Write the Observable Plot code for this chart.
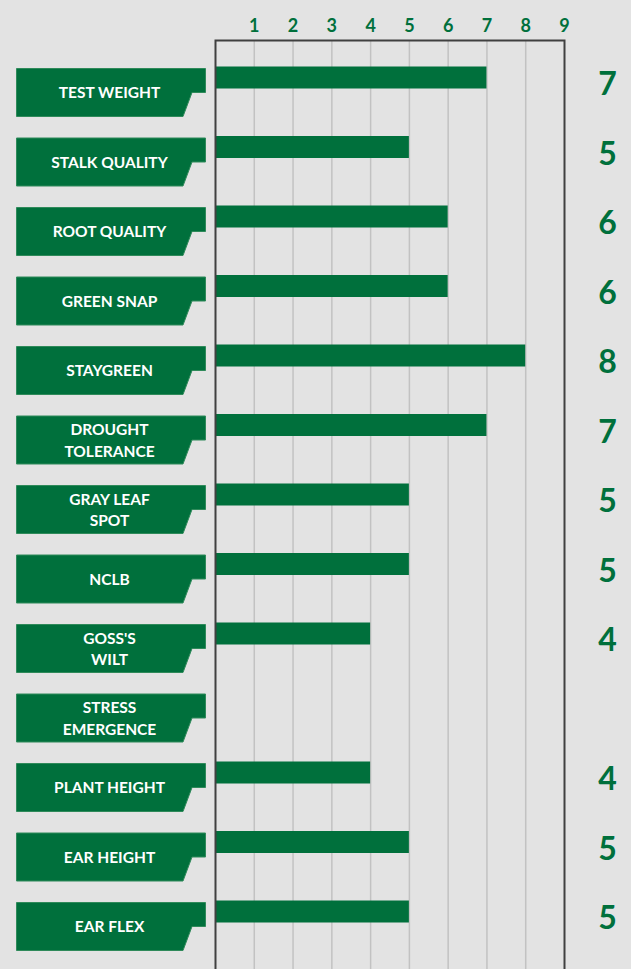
<!DOCTYPE html>
<html>
<head>
<meta charset="utf-8">
<script src="https://cdn.jsdelivr.net/npm/d3@7"></script>
<script src="https://cdn.jsdelivr.net/npm/@observablehq/plot@0.6"></script>
<style>
  html, body { margin: 0; padding: 0; background: #e3e3e3; overflow: hidden; }
  #chart svg { display: block; }
</style>
</head>
<body>
<div id="chart"></div>
<script>
const categories = ["TEST WEIGHT", "STALK QUALITY", "ROOT QUALITY", "GREEN SNAP", "STAYGREEN",
  "DROUGHT\nTOLERANCE", "GRAY LEAF\nSPOT", "NCLB", "GOSS'S\nWILT", "STRESS\nEMERGENCE",
  "PLANT HEIGHT", "EAR HEIGHT", "EAR FLEX"];
const values = [7, 5, 6, 6, 8, 7, 5, 5, 4, null, 4, 5, 5];
const tickValues = [1, 2, 3, 4, 5, 6, 7, 8, 9];

const rows = categories.map((c, i) => ({cat: c, value: values[i]}));
const scored = rows.filter(d => d.value != null);

const GREEN = "#00703c";
const FONT = "Lato, 'Open Sans', sans-serif";

// notched label box symbol (drawn around the dot's position)
const boxSymbol = {
  draw(ctx) {
    ctx.moveTo(-94.5, -24);
    ctx.lineTo(94.5, -24);
    ctx.lineTo(94.5, 0);
    ctx.lineTo(81, 0);
    ctx.lineTo(72, 24);
    ctx.lineTo(-94.5, 24);
    ctx.closePath();
  }
};

const chart = Plot.plot({
  width: 631,
  height: 969,
  marginLeft: 215,
  marginRight: 67,
  marginTop: 40,
  marginBottom: -6,
  style: {background: "#e3e3e3", fontFamily: FONT, overflow: "hidden"},
  x: {domain: [0, 9], label: null},
  y: {type: "point", domain: categories, range: [77, 911], padding: 0, round: false, axis: null},
  marks: [
    Plot.ruleX(tickValues.slice(0, 8), {stroke: "#c2c2c2", strokeWidth: 1.5}),
    Plot.ruleY(scored, {y: "cat", x1: 0, x2: "value", stroke: GREEN, strokeWidth: 22, strokeLinecap: "butt"}),
    Plot.frame({stroke: "#404040", strokeWidth: 2}),
    Plot.axisX(tickValues, {anchor: "top", label: null, tickSize: 0, tickPadding: 9, color: GREEN, fontSize: 18, fontWeight: "bold", fontFamily: FONT}),
    Plot.dot(rows, {y: "cat", frameAnchor: "left", dx: -104.5, dy: 15, symbol: boxSymbol, r: 1, fill: GREEN, stroke: "#2f8a5a", strokeWidth: 1}),
    Plot.text(rows, {y: "cat", text: "cat", frameAnchor: "left", dx: -106, dy: 14, fill: "white", fontSize: 15.5, fontWeight: "bold", fontFamily: FONT, lineHeight: 1.4, textAnchor: "middle"}),
    Plot.text(scored, {y: "cat", text: "value", frameAnchor: "right", dx: 43, dy: 7.5, fill: GREEN, fontSize: 32, fontWeight: "bold", fontFamily: FONT, textAnchor: "middle"})
  ]
});
document.getElementById("chart").appendChild(chart);
</script>
</body>
</html>
